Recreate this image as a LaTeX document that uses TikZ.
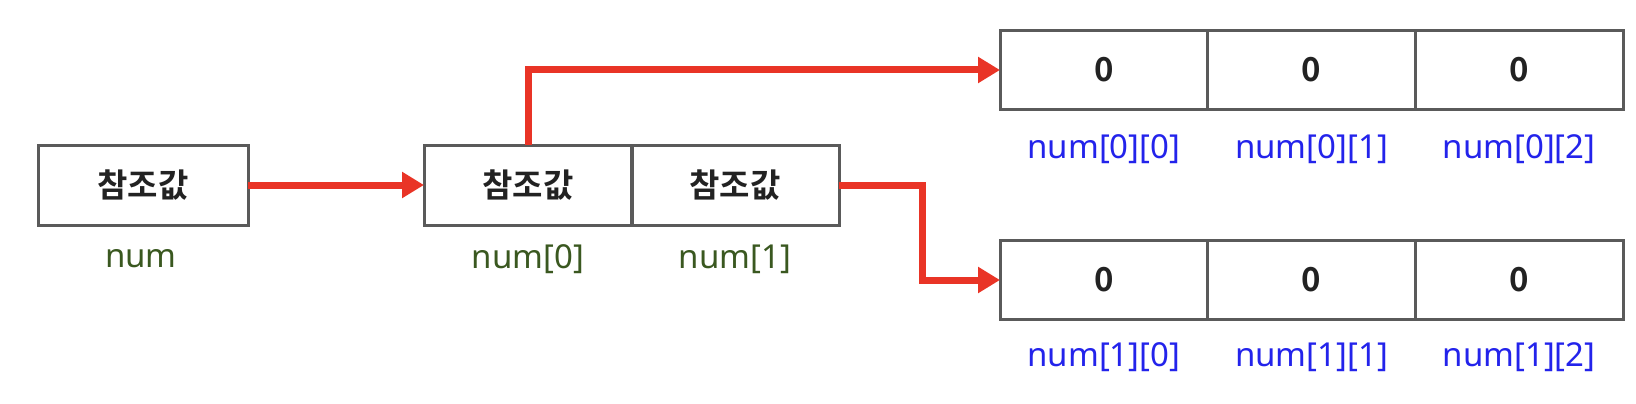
\documentclass[tikz,border=0pt]{standalone}
\usepackage{fontspec}
\setmainfont{Noto Sans}
\newfontfamily\kr{Noto Sans CJK KR}[BoldFont={Noto Sans CJK KR Bold}]
\usetikzlibrary{arrows.meta}
\definecolor{boxline}{RGB}{90,90,90}
\definecolor{arrowred}{RGB}{233,52,38}
\definecolor{lblgreen}{RGB}{58,88,32}
\definecolor{lblblue}{RGB}{35,35,235}
\definecolor{txtdark}{RGB}{34,34,34}
\tikzset{
  cellbox/.style={draw=boxline, line width=3pt, rectangle, inner sep=0pt, outer sep=0pt,
    minimum height=80pt, text=txtdark},
  refcell/.style={cellbox, minimum width=208pt, font=\kr\bfseries\fontsize{33}{40}\selectfont},
  valcell/.style={cellbox, minimum width=207.7pt, minimum height=79pt, font=\kr\bfseries\fontsize{33}{40}\selectfont},
  glabel/.style={text=lblgreen, inner sep=0pt, anchor=base, font=\fontsize{33}{40}\selectfont},
  blabel/.style={text=lblblue, inner sep=0pt, anchor=base, font=\fontsize{33}{40}\selectfont},
  ptr/.style={draw=arrowred, line width=7pt, line join=miter,
    -{Triangle[length=22pt,width=25pt]}},
}
\begin{document}
\begin{tikzpicture}[x=1pt,y=-1pt]
\useasboundingbox (0,0) rectangle (1636,404);
% left box
\node[refcell, minimum width=210pt] (L) at (143,185) {참조값};
\node[glabel] (Llbl) at (141,267) {num};
% middle array of references
\node[refcell] (M0) at (528,185) {참조값};
\node[refcell] (M1) at (735,185) {참조값};
\node[glabel] (M0lbl) at (528,268) {num[0]};
\node[glabel] (M1lbl) at (735,268) {num[1]};
% top array
\node[valcell] (T0) at (1103.85,70) {0};
\node[valcell] (T1) at (1311.5,70) {0};
\node[valcell] (T2) at (1519.15,70) {0};
\node[blabel] (T0lbl) at (1103.85,158) {num[0][0]};
\node[blabel] (T1lbl) at (1311.5,158) {num[0][1]};
\node[blabel] (T2lbl) at (1519.15,158) {num[0][2]};
% bottom array
\node[valcell] (B0) at (1103.85,280) {0};
\node[valcell] (B1) at (1311.5,280) {0};
\node[valcell] (B2) at (1519.15,280) {0};
\node[blabel] (B0lbl) at (1103.85,366) {num[1][0]};
\node[blabel] (B1lbl) at (1311.5,366) {num[1][1]};
\node[blabel] (B2lbl) at (1519.15,366) {num[1][2]};
% pointers
\draw[ptr] (L.east) -- (M0.west);
\draw[ptr] (M0.north) |- (T0.west);
\draw[ptr] (M1.east) -- ++(83,0) |- (B0.west);
\end{tikzpicture}
\end{document}
